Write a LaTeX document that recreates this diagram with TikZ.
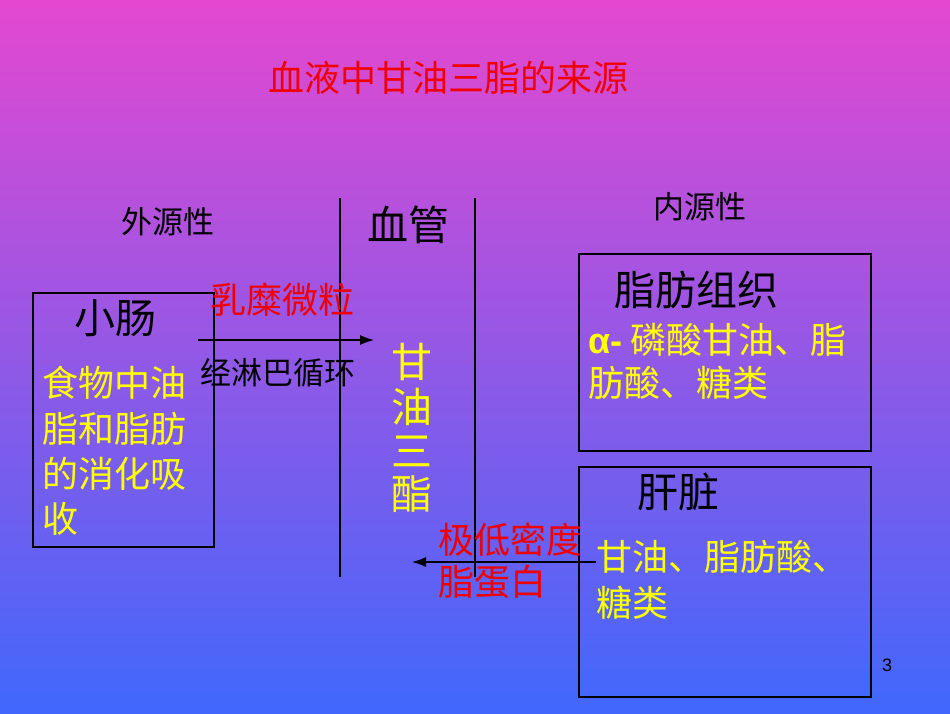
\documentclass[tikz,border=0pt]{standalone}
\usepackage{fontspec}
\setmainfont{Noto Sans CJK SC}
\newfontfamily\lat{Liberation Sans}
\definecolor{topc}{RGB}{228,72,208}
\definecolor{botc}{RGB}{64,104,252}
\definecolor{yel}{RGB}{255,255,0}
\definecolor{redt}{RGB}{240,0,0}
\usetikzlibrary{arrows.meta}
\begin{document}
\begin{tikzpicture}[x=1pt,y=-1pt,
  big/.style={font=\fontsize{41}{44}\selectfont},
  mid/.style={font=\fontsize{36}{40}\selectfont},
  sm/.style={font=\fontsize{31}{34}\selectfont},
  boxs/.style={draw=black,line width=1.5pt},
  arr/.style={-{Latex[length=14pt,width=10pt]},line width=1.2pt}]
\shade[top color=topc,bottom color=botc] (0,0) rectangle (950,713);
\useasboundingbox (0,0) rectangle (950,713);
\node[mid,text=redt] (title) at (448,78) {血液中甘油三脂的来源};
\node[sm] (ext) at (168,222) {外源性};
\node[big] (vessel) at (408,225) {血管};
\node[sm] (int) at (700,207) {内源性};
\coordinate (l1t) at (340,198); \coordinate (l1b) at (340,577);
\coordinate (l2t) at (475,198); \coordinate (l2b) at (475,577);
\draw[line width=1.5pt] (l1t) -- (l1b);
\draw[line width=1.5pt] (l2t) -- (l2b);
\node[boxs,minimum width=181,minimum height=254,anchor=north west] (gut) at (32,292) {};
\node[big] (gutl) at (115,318) {小肠};
\node[mid,text=yel,anchor=west,inner sep=0] (g1) at (42,383) {食物中油};
\node[mid,text=yel,anchor=west,inner sep=0] (g2) at (42,429) {脂和脂肪};
\node[mid,text=yel,anchor=west,inner sep=0] (g3) at (42,474) {的消化吸};
\node[mid,text=yel,anchor=west,inner sep=0] (g4) at (42,519) {收};
\node[mid,text=redt] (cm) at (282,300) {乳糜微粒};
\coordinate (a1s) at (198,340); \coordinate (a1e) at (374,340);
\draw[arr] (a1s) -- (a1e);
\node[sm] (lym) at (278,373) {经淋巴循环};
\node[big,text=yel,inner sep=0] (t1) at (412,362) {甘};
\node[big,text=yel,inner sep=0] (t2) at (412,407) {油};
\node[big,text=yel,inner sep=0] (t3) at (412,451) {三};
\node[big,text=yel,inner sep=0] (t4) at (412,494) {酯};
\node[boxs,minimum width=292,minimum height=197,anchor=north west] (fat) at (578,253) {};
\node[big] (fatl) at (696,290) {脂肪组织};
\node[mid,text=yel,anchor=west,inner sep=0] (fat1) at (588,340) {{\lat\bfseries α-} 磷酸甘油、脂};
\node[mid,text=yel,anchor=west,inner sep=0] (fat2) at (588,383) {肪酸、糖类};
\node[boxs,minimum width=292,minimum height=230,anchor=north west] (liv) at (578,466) {};
\node[big] (livl) at (678,492) {肝脏};
\node[mid,text=yel,anchor=west,inner sep=0] (liv1) at (596,557) {甘油、脂肪酸、};
\node[mid,text=yel,anchor=west,inner sep=0] (liv2) at (596,603) {糖类};
\coordinate (a2s) at (596,562); \coordinate (a2e) at (412,562);
\draw[arr] (a2s) -- (a2e);
\node[mid,text=redt,anchor=west,inner sep=0] (v1) at (438,540) {极低密度};
\node[mid,text=redt,anchor=west,inner sep=0] (v2) at (438,582) {脂蛋白};
\node[font=\lat\fontsize{18}{20}\selectfont] (pg) at (887,665) {3};
\end{tikzpicture}
\end{document}
